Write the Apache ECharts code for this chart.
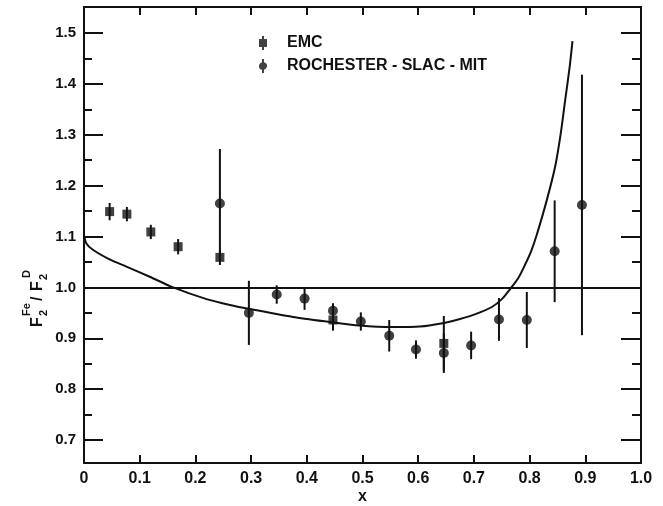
<!DOCTYPE html>
<html><head><meta charset="utf-8">
<script src="https://cdn.jsdelivr.net/npm/echarts@6/dist/echarts.min.js"></script>
<style>html,body{margin:0;padding:0;background:#fff}#c{width:663px;height:506px}</style>
</head><body><div id="c"></div>
<script>
// ---- data ----
const xTicks = [0, 0.1, 0.2, 0.3, 0.4, 0.5, 0.6, 0.7, 0.8, 0.9, 1.0];
const yMajorTicks = [0.7, 0.8, 0.9, 1.0, 1.1, 1.2, 1.3, 1.4, 1.5];
const yMinorTicks = [0.75, 0.85, 0.95, 1.05, 1.15, 1.25, 1.35, 1.45];
const yRange = [0.655, 1.551];

const emcX   = [0.046, 0.077, 0.120, 0.169, 0.244, 0.447, 0.646];
const emcY   = [1.149, 1.144, 1.109, 1.080, 1.059, 0.936, 0.890];
const emcErr = [0.017, 0.014, 0.014, 0.015, 0.015, 0.021, 0.054];

const rsmX     = [0.244, 0.296, 0.346, 0.396, 0.447, 0.497, 0.548, 0.596, 0.646, 0.695, 0.745, 0.795, 0.845, 0.894];
const rsmY     = [1.165, 0.950, 0.986, 0.978, 0.954, 0.933, 0.905, 0.878, 0.871, 0.886, 0.937, 0.936, 1.071, 1.162];
const rsmErr   = [0.107, 0.063, 0.018, 0.022, 0.015, 0.018, 0.031, 0.018, 0.039, 0.027, 0.042, 0.055, 0.100, 0.256];

const curveX = [0, 0.004, 0.016, 0.046, 0.076, 0.118, 0.160, 0.220, 0.260, 0.300, 0.375, 0.435, 0.495, 0.555, 0.603, 0.641, 0.675, 0.704, 0.733, 0.751, 0.766, 0.780, 0.792, 0.803, 0.813, 0.831, 0.846, 0.856, 0.864, 0.872, 0.877];
const curveY = [1.103, 1.087, 1.074, 1.055, 1.041, 1.021, 1.000, 0.977, 0.966, 0.957, 0.942, 0.933, 0.925, 0.922, 0.923, 0.929, 0.938, 0.948, 0.962, 0.978, 0.998, 1.019, 1.045, 1.072, 1.104, 1.172, 1.238, 1.303, 1.369, 1.434, 1.484];

const unityLevel = 1.0;
const legendNames = ['EMC', 'ROCHESTER - SLAC - MIT'];

// ---- chart ----
const INK = '#111';
const FONT = 'Liberation Sans';
const chart = echarts.init(document.getElementById('c'), null, {renderer: 'canvas'});
const gridRect = {left: 84, right: 22, top: 7, bottom: 43, outerBoundsMode: 'none', containLabel: false};

function errBars(name, xs, ys, errs) {
  return {
    type: 'custom', name: name, xAxisIndex: 0, yAxisIndex: 0, silent: true, z: 3,
    data: xs.map((x, i) => [x, ys[i] - errs[i], ys[i] + errs[i]]),
    encode: {x: 0, y: [1, 2]},
    renderItem: function (params, api) {
      const a = api.coord([api.value(0), api.value(1)]);
      const b = api.coord([api.value(0), api.value(2)]);
      return {type: 'line', shape: {x1: a[0], y1: a[1], x2: b[0], y2: b[1]},
              style: {stroke: INK, lineWidth: 2}};
    }
  };
}

const emcIcon = 'path://M3,0 L5,0 L5,3 L8,3 L8,11 L5,11 L5,14 L3,14 L3,11 L0,11 L0,3 L3,3 Z';
const rsmIcon = 'path://M3,0 L5,0 L5,3.13 A4,4 0 0 1 5,10.87 L5,14 L3,14 L3,10.87 A4,4 0 0 1 3,3.13 Z';

const option = {
  backgroundColor: '#fff',
  animation: false,
  grid: [Object.assign({}, gridRect), Object.assign({}, gridRect)],
  legend: {
    orient: 'vertical', left: 259, top: 35, padding: 0, itemWidth: 8, itemHeight: 14, itemGap: 7,
    data: [{name: legendNames[0], icon: emcIcon}, {name: legendNames[1], icon: rsmIcon}],
    textStyle: {color: INK, fontFamily: FONT, fontSize: 16, fontWeight: 'bold', padding: [0, 0, 0, 15]},
    selectedMode: false
  },
  xAxis: [
    {gridIndex: 0, type: 'value', position: 'bottom', min: 0, max: 1, interval: 0.1,
     name: 'x', nameLocation: 'middle', nameGap: 26, nameMoveOverlap: false,
     nameTextStyle: {color: INK, fontFamily: FONT, fontSize: 16, fontWeight: 'bold'},
     axisLine: {show: true, onZero: false, lineStyle: {color: INK, width: 2}},
     axisTick: {show: true, inside: true, length: 8, lineStyle: {color: INK, width: 2}},
     axisLabel: {color: INK, fontFamily: FONT, fontSize: 16, fontWeight: 'bold', margin: 8,
                 customValues: xTicks, formatter: v => (v === 0 ? '0' : v.toFixed(1))},
     splitLine: {show: false}},
    {gridIndex: 0, type: 'value', position: 'top', min: 0, max: 1, interval: 0.1,
     axisLine: {show: true, onZero: false, lineStyle: {color: INK, width: 2}},
     axisTick: {show: true, inside: true, length: 8, lineStyle: {color: INK, width: 2}},
     axisLabel: {show: false}, splitLine: {show: false}},
    {gridIndex: 1, type: 'value', min: 0, max: 1, show: false}
  ],
  yAxis: [
    {gridIndex: 0, type: 'value', position: 'left', min: yRange[0], max: yRange[1],
     axisLine: {show: true, onZero: false, lineStyle: {color: INK, width: 2}},
     axisTick: {show: true, inside: true, length: 19, customValues: yMajorTicks, lineStyle: {color: INK, width: 2}},
     axisLabel: {color: INK, fontFamily: FONT, fontSize: 15, fontWeight: 'bold', margin: 8,
                 customValues: yMajorTicks, formatter: v => v.toFixed(1)},
     splitLine: {show: false}},
    {gridIndex: 0, type: 'value', position: 'right', min: yRange[0], max: yRange[1],
     axisLine: {show: true, onZero: false, lineStyle: {color: INK, width: 2}},
     axisTick: {show: true, inside: true, length: 20, customValues: yMajorTicks, lineStyle: {color: INK, width: 2}},
     axisLabel: {show: false}, splitLine: {show: false}},
    {gridIndex: 1, type: 'value', position: 'left', min: yRange[0], max: yRange[1],
     axisLine: {show: false},
     axisTick: {show: true, inside: true, length: 8, customValues: yMinorTicks, lineStyle: {color: INK, width: 2}},
     axisLabel: {show: false}, splitLine: {show: false}},
    {gridIndex: 1, type: 'value', position: 'right', min: yRange[0], max: yRange[1],
     axisLine: {show: false},
     axisTick: {show: true, inside: true, length: 9, customValues: yMinorTicks, lineStyle: {color: INK, width: 2}},
     axisLabel: {show: false}, splitLine: {show: false}}
  ],
  series: [
    {type: 'line', name: 'model', xAxisIndex: 0, yAxisIndex: 0, silent: true, z: 2,
     data: curveX.map((x, i) => [x, curveY[i]]), showSymbol: false, smooth: 0.25,
     lineStyle: {color: INK, width: 2},
     markLine: {silent: true, symbol: ['none', 'none'], label: {show: false},
                lineStyle: {color: INK, width: 2, type: 'solid'},
                data: [{yAxis: unityLevel}]}},
    errBars('emcErr', emcX, emcY, emcErr),
    errBars('rsmErr', rsmX, rsmY, rsmErr),
    {type: 'scatter', name: legendNames[0], xAxisIndex: 0, yAxisIndex: 0, z: 4,
     symbol: 'rect', symbolSize: 9, itemStyle: {color: INK},
     data: emcX.map((x, i) => [x, emcY[i]])},
    {type: 'scatter', name: legendNames[1], xAxisIndex: 0, yAxisIndex: 0, z: 5,
     symbol: 'circle', symbolSize: 10, itemStyle: {color: INK},
     data: rsmX.map((x, i) => [x, rsmY[i]])}
  ],
  graphic: [{
    type: 'group', x: 38, y: 327, rotation: Math.PI / 2, silent: true,
    children: [
      {type: 'text', x: 0,  y: 0,   style: {text: 'F',  font: 'bold 16px ' + FONT, fill: INK, textAlign: 'left', textVerticalAlign: 'middle'}},
      {type: 'text', x: 11, y: 6,   style: {text: '2',  font: 'bold 11px ' + FONT, fill: INK, textAlign: 'left', textVerticalAlign: 'middle'}},
      {type: 'text', x: 11, y: -11, style: {text: 'Fe', font: 'bold 11px ' + FONT, fill: INK, textAlign: 'left', textVerticalAlign: 'middle'}},
      {type: 'text', x: 26, y: 0,   style: {text: '/',  font: 'bold 16px ' + FONT, fill: INK, textAlign: 'left', textVerticalAlign: 'middle'}},
      {type: 'text', x: 36, y: 0,   style: {text: 'F',  font: 'bold 16px ' + FONT, fill: INK, textAlign: 'left', textVerticalAlign: 'middle'}},
      {type: 'text', x: 47, y: 6,   style: {text: '2',  font: 'bold 11px ' + FONT, fill: INK, textAlign: 'left', textVerticalAlign: 'middle'}},
      {type: 'text', x: 49, y: -11, style: {text: 'D',  font: 'bold 11px ' + FONT, fill: INK, textAlign: 'left', textVerticalAlign: 'middle'}}
    ]
  }]
};
chart.setOption(option);
</script>
</body></html>
